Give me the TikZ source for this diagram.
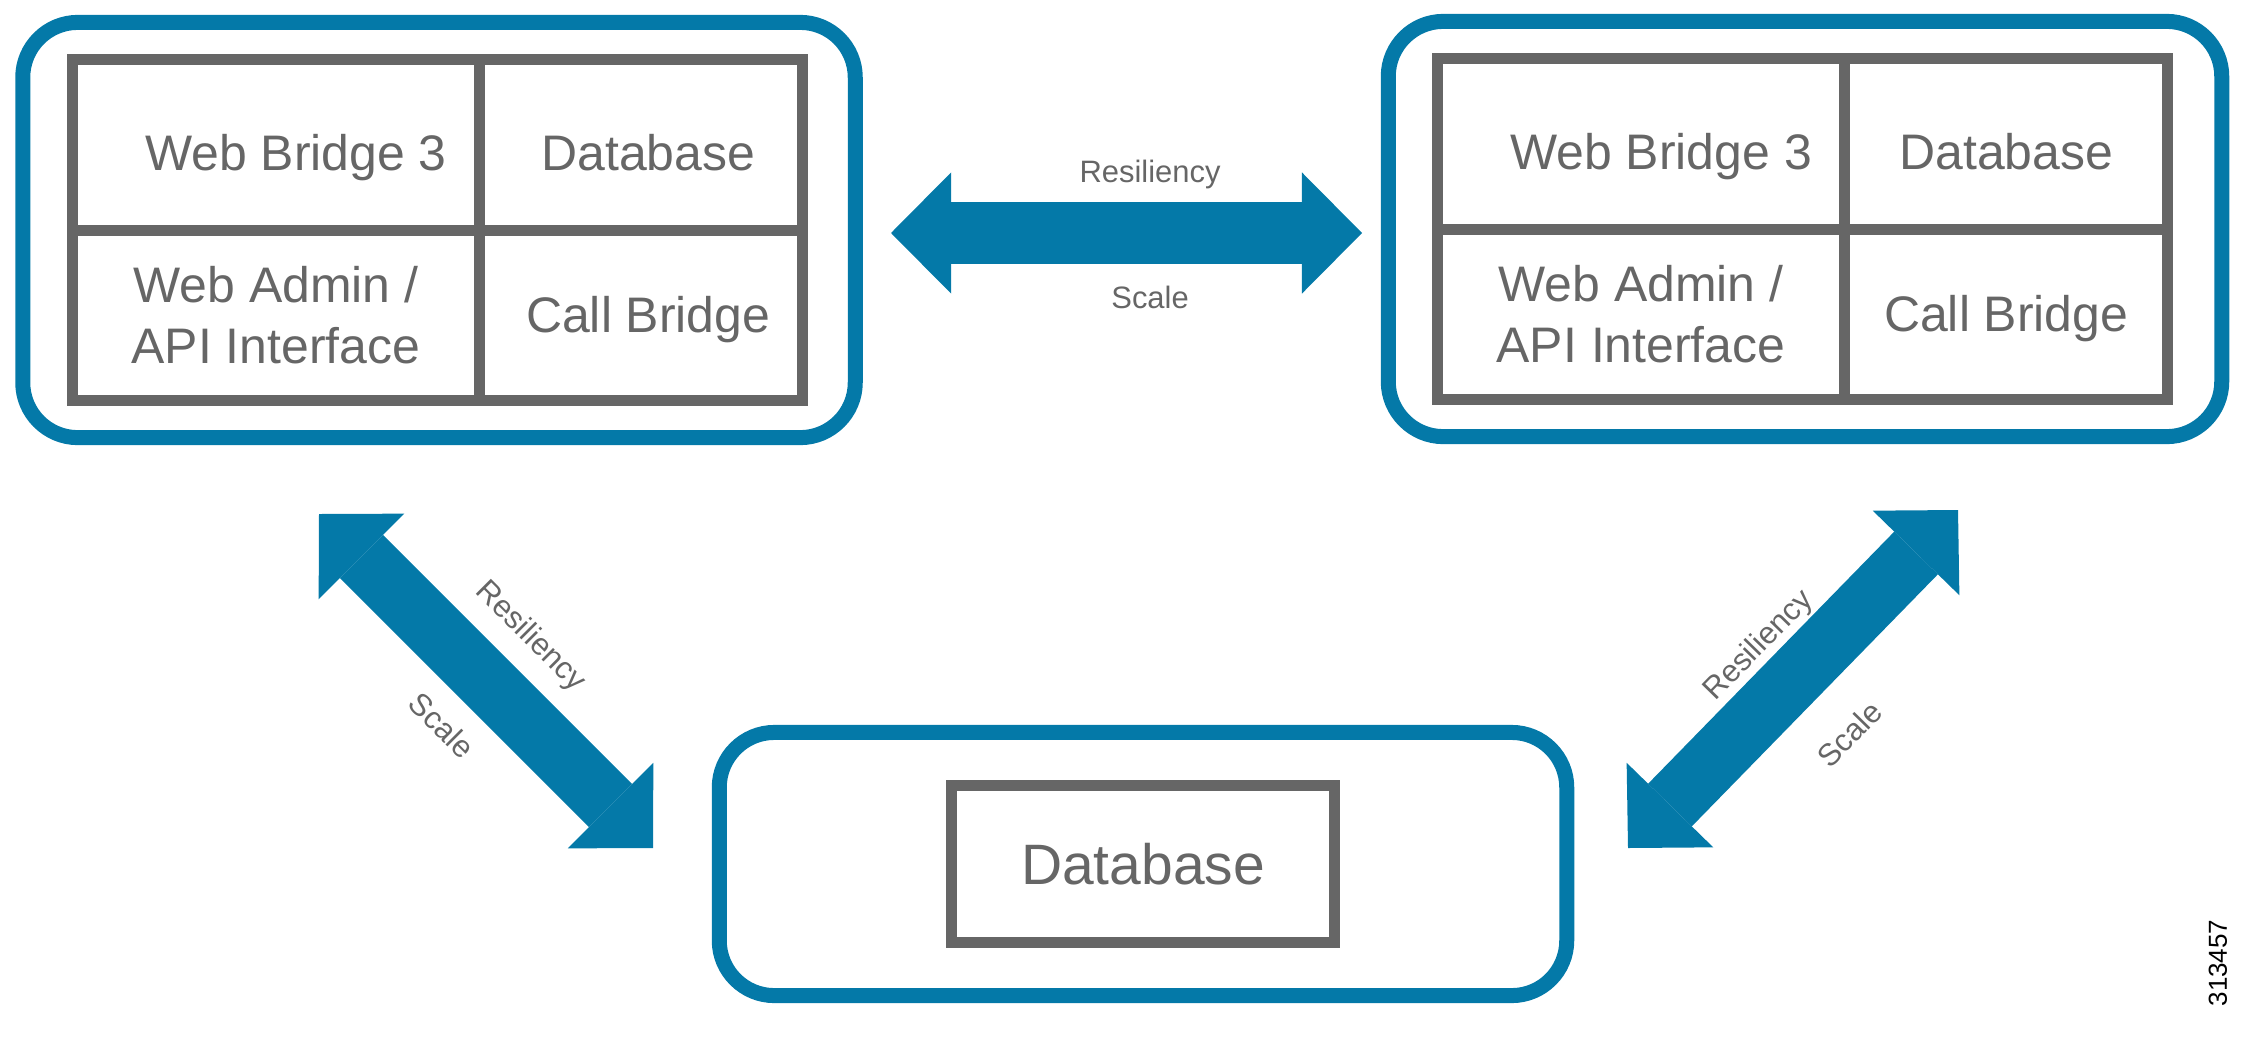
\documentclass[tikz,border=0pt]{standalone}
\usepackage{fontspec}
\setmainfont{Liberation Sans}
\usepackage{tikz}
\usetikzlibrary{positioning, arrows.meta}
\definecolor{ciscoblue}{RGB}{4,121,168}
\definecolor{boxgray}{RGB}{102,102,102}

\begin{document}
\begin{tikzpicture}[x=0.01cm, y=-0.01cm,
    server/.style={draw=ciscoblue, line width=0.15cm, rounded corners=0.55cm, inner sep=0pt},
    cell/.style={draw=boxgray, line width=0.11cm, inner sep=0pt, outer sep=0pt, text=boxgray, align=center, font=\fontsize{14.2}{17.6}\selectfont},
    wide/.style={minimum width=4.07cm, minimum height=1.70cm},
    narrow/.style={minimum width=3.23cm, minimum height=1.70cm},
    toprow/.style={text height=0.5cm, text depth=0pt},
    blockarrow/.style={draw=ciscoblue, line width=0.61cm, {Triangle[length=0.6cm, width=1.21cm, line width=0pt]}-{Triangle[length=0.6cm, width=1.21cm, line width=0pt]}},
    tag/.style={text=boxgray, inner sep=0pt, outer sep=0pt, font=\fontsize{8.8}{10}\selectfont}]
  \useasboundingbox (0,0) rectangle (2264,1057);

  % left server
  \node[server, minimum width=8.32cm, minimum height=4.15cm] (lsrv) at (439,230) {};
  \node[cell, wide, toprow] (lwb) at (276,145) {\hspace*{0.4cm}Web Bridge 3};
  \node[cell, narrow, toprow, right=0pt of lwb] (ldb) {\hspace*{0.14cm}Database};
  \node[cell, wide, below=0pt of lwb] (lwa) {Web Admin /\\API Interface};
  \node[cell, narrow, right=0pt of lwa, text height=0.34cm, text depth=0pt] (lcb) {\hspace*{0.14cm}Call Bridge};

  % right server
  \node[server, minimum width=8.33cm, minimum height=4.15cm] (rsrv) at (1805,229) {};
  \node[cell, wide, toprow] (rwb) at (1641,144) {\hspace*{0.4cm}Web Bridge 3};
  \node[cell, narrow, toprow, right=0pt of rwb] (rdb) {Database};
  \node[cell, wide, below=0pt of rwb] (rwa) {Web Admin /\\API Interface};
  \node[cell, narrow, right=0pt of rwa, text height=0.34cm, text depth=0pt] (rcb) {Call Bridge};

  % shared database
  \node[server, minimum width=8.47cm, minimum height=2.63cm] (hub) at (1143,864) {};
  \node[cell, minimum width=3.82cm, minimum height=1.56cm, font=\fontsize{16.2}{19}\selectfont] (hubdb) at (hub.center) {Database};

  \node[rotate=90, inner sep=0pt, font=\fontsize{7.4}{8}\selectfont] (fig) at (2218,963) {313457};

  % arrow ends
  \coordinate (ta) at (891,233);
  \coordinate (tb) at (1362,233);
  \coordinate (la) at (319,514);
  \coordinate (lb) at (653,848);
  \coordinate (ra) at (1628,848);
  \coordinate (rb) at (1958,510);

  \draw[blockarrow] (ta) -- node[tag, pos=.55, above=0.44cm] {Resiliency} node[tag, pos=.55, below=0.53cm] {Scale} (tb);
  \draw[blockarrow] (la) -- node[tag, sloped, above=0.48cm] {Resiliency} node[tag, sloped, below=0.51cm] {Scale} (lb);
  \draw[blockarrow] (ra) -- node[tag, sloped, above=0.33cm] {Resiliency} node[tag, sloped, below=0.67cm] {Scale} (rb);
\end{tikzpicture}
\end{document}
